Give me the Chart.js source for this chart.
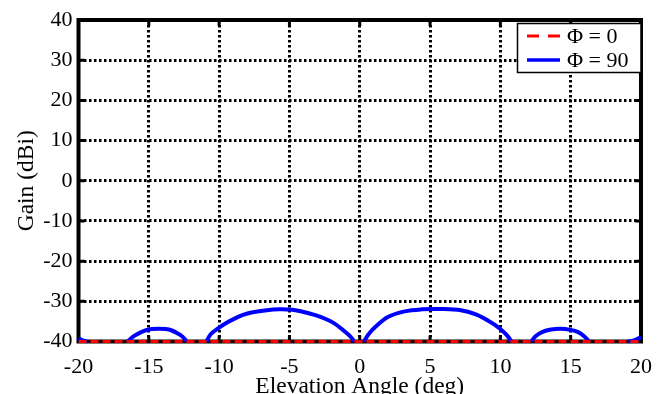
<!DOCTYPE html>
<html>
<head>
<meta charset="utf-8">
<script src="https://cdn.jsdelivr.net/npm/chart.js@4.4.1/dist/chart.umd.min.js"></script>
<style>
  html, body { margin: 0; padding: 0; background: #fff; }
  #wrap { width: 665px; height: 394px; }
</style>
</head>
<body>
<div id="wrap"><canvas id="gain" width="665" height="394"></canvas></div>
<script>
// Axis ticks
const xTicks = [-20, -15, -10, -5, 0, 5, 10, 15, 20];
const yTicks = [-40, -30, -20, -10, 0, 10, 20, 30, 40];

// Series names
const seriesLabels = ['\u03A6 = 0', '\u03A6 = 90'];

// Φ = 0 cut: flat at the floor of the plot
const phi0Angle = [-20, 20];
const phi0Gain = [-40, -40];

// Φ = 90 cut: lobes above the -40 dBi floor (null gain = below the floor)
const phi90Angle = [
  -20, -19.7, -19.4, -18,
  -16.5, -16.2, -15.9, -15.5, -15.2, -14.8, -14.3, -13.8, -13.4, -13.0, -12.6, -12.3, -11.6,
  -10.9, -10.6, -10.1, -9.5, -8.9, -8.3, -7.7, -6.6, -5.7, -4.8, -4.3, -3.1, -1.9, -1.0, -0.6, -0.4, 0,
  0.3, 0.6, 1.1, 2.0, 3.2, 4.4, 5.8, 7.2, 8.3, 9.5, 10.2, 10.5, 10.8, 11.5,
  12.2, 12.5, 13.0, 13.6, 14.3, 15.0, 15.5, 16.0, 16.3, 17.7,
  19.1, 19.5, 20
];
const phi90Gain = [
  -39.2, -39.7, -40, null,
  -40, -39.0, -38.3, -37.6, -37.2, -36.9, -36.8, -36.9, -37.2, -37.9, -38.8, -40, null,
  -40, -38.2, -36.8, -35.4, -34.3, -33.4, -32.8, -32.2, -32.0, -32.1, -32.4, -33.5, -35.3, -37.7, -39.0, -40, null,
  -40, -38.3, -36.4, -33.9, -32.5, -32.0, -31.9, -32.2, -33.3, -35.6, -37.5, -38.6, -40, null,
  -40, -38.7, -37.6, -37.0, -36.8, -37.1, -37.6, -38.8, -40, null,
  -40, -39.7, -38.9
];

const FONT = "'Liberation Serif', 'Times New Roman', serif";

function toPoints(xs, ys) {
  return xs.map((x, i) => ({ x: x, y: ys[i] }));
}

// Plot frame with inward tick marks
const frame = {
  id: 'frame',
  beforeDatasetsDraw(chart) {
    const { ctx, chartArea: a, scales } = chart;
    ctx.save();
    ctx.strokeStyle = '#000';
    ctx.lineWidth = 3;
    const len = 6;
    ctx.beginPath();
    xTicks.forEach(v => {
      const p = scales.x.getPixelForValue(v);
      ctx.moveTo(p, a.bottom); ctx.lineTo(p, a.bottom - len);
      ctx.moveTo(p, a.top); ctx.lineTo(p, a.top + len);
    });
    yTicks.forEach(v => {
      const p = scales.y.getPixelForValue(v);
      ctx.moveTo(a.left, p); ctx.lineTo(a.left + len, p);
      ctx.moveTo(a.right, p); ctx.lineTo(a.right - len, p);
    });
    ctx.stroke();
    ctx.lineWidth = 4;
    ctx.strokeRect(a.left, a.top, a.right - a.left, a.bottom - a.top);
    ctx.restore();
  }
};

// Legend box in the upper-right corner of the plot
const boxLegend = {
  id: 'boxLegend',
  afterDatasetsDraw(chart) {
    const { ctx, chartArea: a } = chart;
    const ds = chart.data.datasets;
    const x0 = 517.5, y0 = 23.5, w = a.right - x0, h = 49;
    ctx.save();
    ctx.fillStyle = '#fff';
    ctx.fillRect(x0, y0, w, h);
    ctx.strokeStyle = '#000';
    ctx.lineWidth = 1.5;
    ctx.strokeRect(x0, y0, w, h);
    const rows = [36, 60];
    ds.forEach((d, i) => {
      const y = rows[i];
      ctx.beginPath();
      ctx.strokeStyle = d.borderColor;
      ctx.lineWidth = i === 0 ? 3 : 3.5;
      ctx.setLineDash(i === 0 ? [12, 9] : []);
      ctx.moveTo(527, y); ctx.lineTo(560, y);
      ctx.stroke();
      ctx.setLineDash([]);
      ctx.fillStyle = '#000';
      ctx.font = '22px ' + FONT;
      ctx.textBaseline = 'middle';
      ctx.textAlign = 'left';
      ctx.fillText(d.label, 567, y + 1);
    });
    ctx.restore();
  }
};

Chart.defaults.font.family = FONT;
Chart.defaults.color = '#000';

new Chart(document.getElementById('gain'), {
  type: 'line',
  data: {
    datasets: [
      {
        label: seriesLabels[0],
        data: toPoints(phi0Angle, phi0Gain),
        borderColor: '#ff0000',
        borderWidth: 3,
        borderDash: [8, 4],
        pointRadius: 0,
        clip: { left: 0, right: 0, top: 0, bottom: 3 }
      },
      {
        label: seriesLabels[1],
        data: toPoints(phi90Angle, phi90Gain),
        borderColor: '#0000ff',
        borderWidth: 4,
        pointRadius: 0,
        tension: 0.35,
        spanGaps: false,
        clip: { left: 2, right: 2, top: 0, bottom: 2 }
      }
    ]
  },
  options: {
    responsive: false,
    animation: false,
    events: [],
    layout: { padding: { left: 0, right: 15, top: 20, bottom: 0 } },
    plugins: { legend: { display: false }, tooltip: { enabled: false } },
    scales: {
      x: {
        type: 'linear',
        min: -20, max: 20,
        afterBuildTicks: s => { s.ticks = xTicks.map(v => ({ value: v })); },
        afterFit: s => { s.height = 52.5; },
        ticks: { font: { size: 22 }, padding: 13, color: '#000', maxRotation: 0 },
        grid: { color: '#000', lineWidth: 3, drawTicks: false },
        border: { display: false, dash: [2.5, 2.5] },
        title: {
          display: true,
          text: 'Elevation Angle (deg)',
          font: { size: 23.5, lineHeight: 1 },
          color: '#000',
          padding: { top: 0, bottom: -4.5 }
        }
      },
      y: {
        type: 'linear',
        min: -40, max: 40,
        afterBuildTicks: s => { s.ticks = yTicks.map(v => ({ value: v })); },
        afterFit: s => { s.width = 78.5; },
        ticks: { font: { size: 22 }, padding: 6, color: '#000' },
        grid: { color: '#000', lineWidth: 3, drawTicks: false },
        border: { display: false, dash: [2.5, 2.5] },
        title: {
          display: true,
          text: 'Gain (dBi)',
          font: { size: 23.5, lineHeight: 1 },
          color: '#000',
          padding: { top: 15, bottom: 0 }
        }
      }
    }
  },
  plugins: [frame, boxLegend]
});
</script>
</body>
</html>
